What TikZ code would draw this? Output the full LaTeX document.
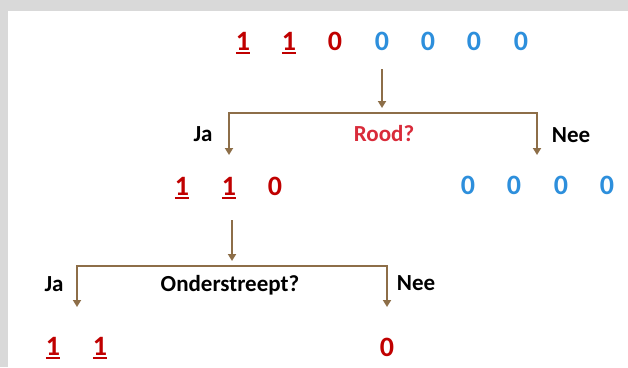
\documentclass[tikz,border=0pt]{standalone}
\usepackage{fontspec}
\setmainfont{Carlito}
\usetikzlibrary{arrows.meta}
\definecolor{dred}{HTML}{C00000}
\definecolor{lred}{HTML}{D92B3A}
\definecolor{dblue}{HTML}{2D8FDC}
\definecolor{brn}{HTML}{8D6E48}
\definecolor{bggray}{HTML}{D9D9D9}
\newcommand\undl[1]{\setbox0\hbox{#1}\rlap{\rule[-4pt]{\wd0}{1.6pt}}\box0}
\begin{document}
\begin{tikzpicture}[x=1pt,y=-1pt,
  dig/.style={font=\fontsize{28}{32}\selectfont\bfseries, anchor=base, inner sep=0pt},
  rdig/.style={dig, text=dred},
  bdig/.style={dig, text=dblue},
  lab/.style={font=\fontsize{23}{27}\selectfont\bfseries, anchor=base, inner sep=0pt, text=black},
  conn/.style={draw=brn, line width=1.8pt, -{Triangle[width=8pt,length=7pt]}},
  bracket/.style={draw=brn, line width=1.8pt, {Triangle[width=8pt,length=7pt]}-{Triangle[width=8pt,length=7pt]}}]
\fill[bggray] (0,0) rectangle (628,367);
\fill[white] (8,11) rectangle (628,367);
\useasboundingbox (0,0) rectangle (628,367);
% row 1
\node[rdig] (a1) at (243,50) {\undl{1}};
\node[rdig] (a2) at (289,50) {\undl{1}};
\node[rdig] (a3) at (335,50) {0};
\node[bdig] (a4) at (382,50) {0};
\node[bdig] (a5) at (428,50) {0};
\node[bdig] (a6) at (474,50) {0};
\node[bdig] (a7) at (521,50) {0};
% first split
\coordinate (s1) at (382,69);
\coordinate (j1) at (382,108);
\draw[conn] (s1) -- (j1);
\coordinate (l1) at (229,155);
\coordinate (lc1) at (229,113);
\coordinate (rc1) at (537,113);
\coordinate (r1) at (537,155);
\draw[bracket] (l1) -- (lc1) -- (rc1) -- (r1);
\node[lab] (ja1) at (203,141) {Ja};
\node[lab, text=lred] (q1) at (384,141) {Rood?};
\node[lab] (nee1) at (571,142) {Nee};
% row 2
\node[rdig] (b1) at (182,195) {\undl{1}};
\node[rdig] (b2) at (229,195) {\undl{1}};
\node[rdig] (b3) at (275,195) {0};
\node[bdig] (b4) at (468,194) {0};
\node[bdig] (b5) at (514,194) {0};
\node[bdig] (b6) at (561,194) {0};
\node[bdig] (b7) at (607,194) {0};
% second split
\coordinate (s2) at (232,220);
\coordinate (j2) at (232,261);
\draw[conn] (s2) -- (j2);
\coordinate (l2) at (77,307);
\coordinate (lc2) at (77,266);
\coordinate (rc2) at (387,266);
\coordinate (r2) at (387,307);
\draw[bracket] (l2) -- (lc2) -- (rc2) -- (r2);
\node[lab] (ja2) at (54,291) {Ja};
\node[lab] (q2) at (230,291) {Onderstreept?};
\node[lab] (nee2) at (416,290) {Nee};
% row 3
\node[rdig] (c1) at (53,355) {\undl{1}};
\node[rdig] (c2) at (100,355) {\undl{1}};
\node[rdig] (c3) at (387,356) {0};
\end{tikzpicture}
\end{document}
